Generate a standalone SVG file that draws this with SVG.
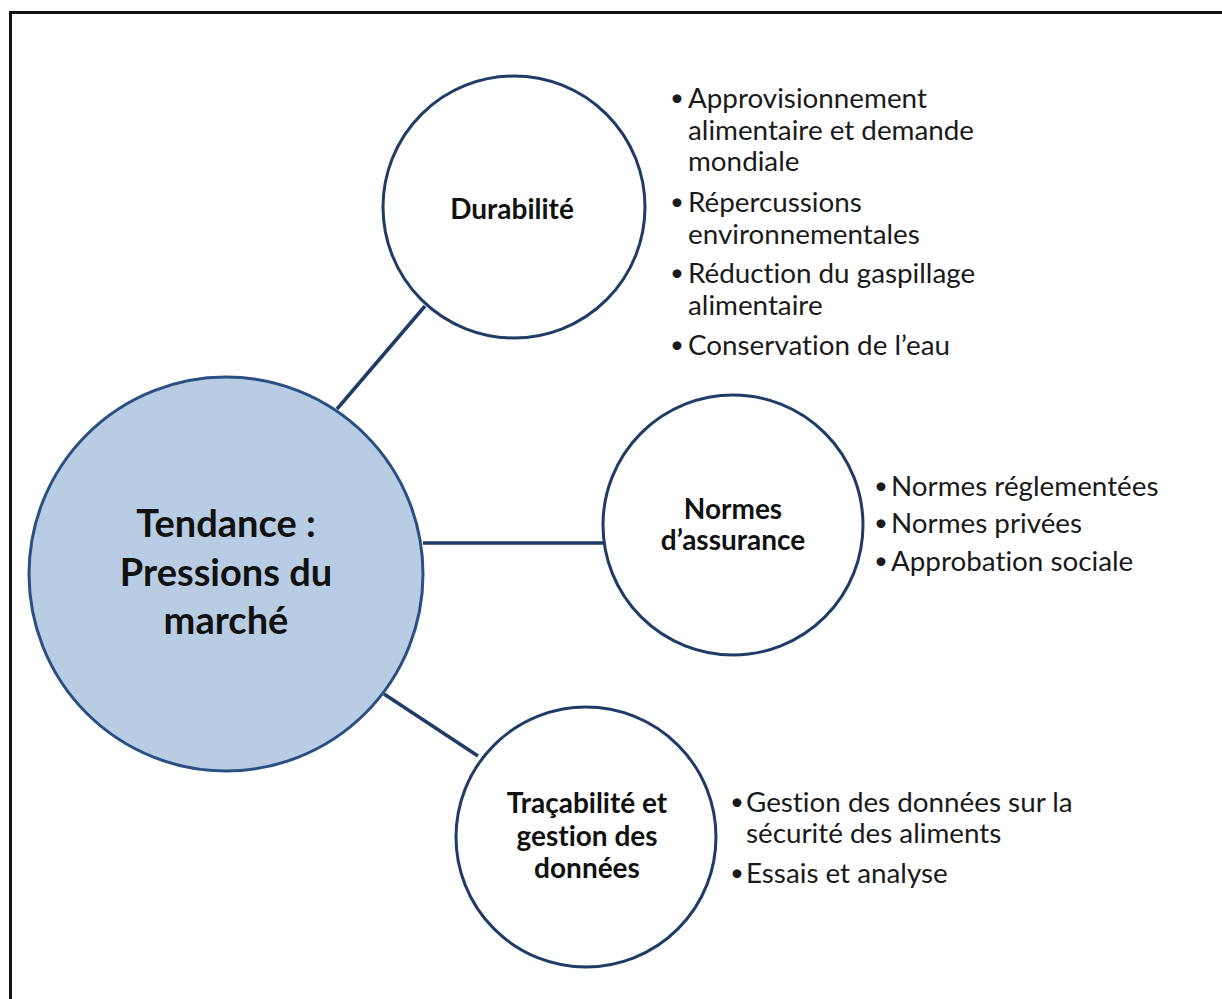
<svg xmlns="http://www.w3.org/2000/svg" width="1222" height="999" viewBox="0 0 1222 999">
<style>
text{font-variant-ligatures:none}
.node{fill:#ffffff;stroke:#1f3b68;stroke-width:3}
.main{fill:#b8cce4;stroke:#2a4f82;stroke-width:3}
.conn line{stroke:#1f3b68;stroke-width:3.5}
.lbl{font-family:Lato,"Open Sans",sans-serif;font-weight:bold;font-size:28px;fill:#111;text-anchor:middle}
.big{font-family:Lato,"Open Sans",sans-serif;font-weight:bold;font-size:38px;fill:#111;text-anchor:middle}
.it{font-family:Lato,"Open Sans",sans-serif;font-size:27.8px;fill:#1a1a1a}
.bu{font-family:Lato,"Open Sans",sans-serif;font-size:24px;fill:#1a1a1a}
</style>
<rect width="1222" height="999" fill="#ffffff"/>
<path d="M10.5,999 V12.5 H1222" fill="none" stroke="#111" stroke-width="3"/>
<g id="connectors" class="conn">
<line x1="337" y1="409" x2="425" y2="306"/>
<line x1="423" y1="543" x2="603" y2="543"/>
<line x1="384" y1="694" x2="478" y2="756"/>
</g>
<g id="tendance">
<circle class="main" cx="226" cy="574" r="197"/>
<text class="big" x="226" y="537">Tendance :</text>
<text class="big" x="226" y="586">Pressions du</text>
<text class="big" x="226" y="634">marché</text>
</g>
<g id="durabilite">
<circle class="node" cx="514" cy="207" r="131"/>
<text class="lbl" x="512" y="219">Durabilité</text>
</g>
<g id="durabilite-list">
<text class="bu" x="670" y="106">•</text><text class="it" x="688" y="108">Approvisionnement</text>
<text class="it" x="688" y="140">alimentaire et demande</text>
<text class="it" x="688" y="171">mondiale</text>
<text class="bu" x="670" y="210">•</text><text class="it" x="688" y="212">Répercussions</text>
<text class="it" x="688" y="244">environnementales</text>
<text class="bu" x="670" y="281">•</text><text class="it" x="688" y="283">Réduction du gaspillage</text>
<text class="it" x="688" y="315">alimentaire</text>
<text class="bu" x="670" y="353">•</text><text class="it" x="688" y="355">Conservation de l’eau</text>
</g>
<g id="normes">
<circle class="node" cx="733" cy="525" r="130"/>
<text class="lbl" x="733" y="519">Normes</text>
<text class="lbl" x="733" y="550">d’assurance</text>
</g>
<g id="normes-list">
<text class="bu" x="874" y="494">•</text><text class="it" x="891" y="496">Normes réglementées</text>
<text class="bu" x="874" y="531">•</text><text class="it" x="891" y="533">Normes privées</text>
<text class="bu" x="874" y="569">•</text><text class="it" x="891" y="571">Approbation sociale</text>
</g>
<g id="tracabilite">
<circle class="node" cx="586" cy="837" r="130"/>
<text class="lbl" x="587" y="813">Traçabilité et</text>
<text class="lbl" x="587" y="846">gestion des</text>
<text class="lbl" x="587" y="878">données</text>
</g>
<g id="tracabilite-list">
<text class="bu" x="730" y="810">•</text><text class="it" x="746" y="812">Gestion des données sur la</text>
<text class="it" x="746" y="843">sécurité des aliments</text>
<text class="bu" x="730" y="881">•</text><text class="it" x="746" y="883">Essais et analyse</text>
</g>
</svg>
